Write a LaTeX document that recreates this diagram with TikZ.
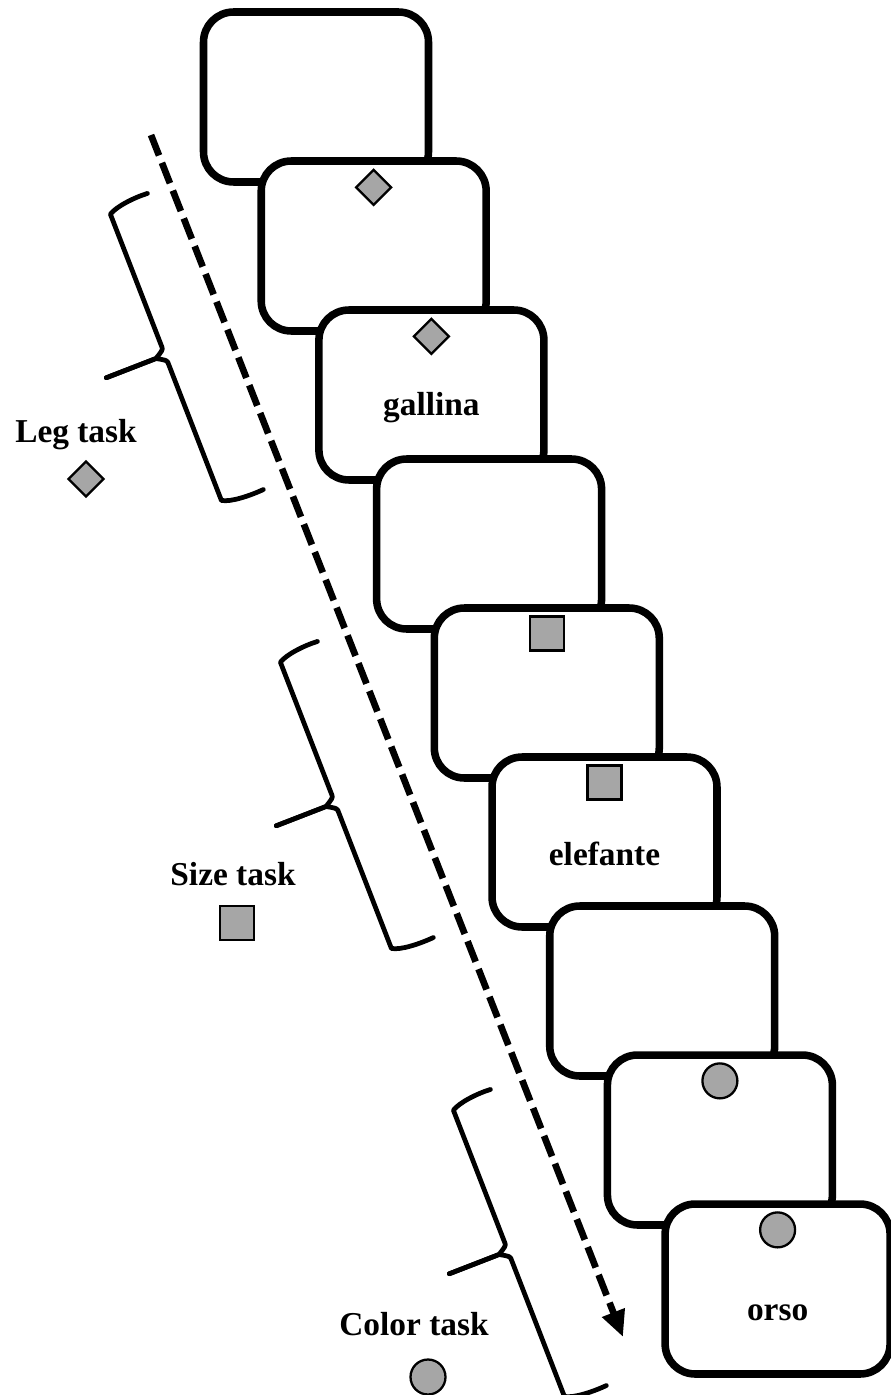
\documentclass[tikz,border=0pt]{standalone}
\usepackage{fontspec}
\setmainfont{Liberation Serif}
\usepackage{xcolor}
\usepackage{tikz}
\usetikzlibrary{positioning,shapes.geometric,arrows.meta,calc}
\definecolor{markgray}{RGB}{166,166,166}
\tikzstyle{card}=[rectangle, draw=black, line width=4.3pt, fill=white,
  rounded corners=0.6cm, minimum width=4.5cm, minimum height=3.4cm]
\tikzstyle{shapebase}=[draw=black, fill=markgray, line width=1.3pt, inner sep=0pt]
\tikzstyle{legshape}=[shapebase, diamond, minimum size=0.72cm]
\tikzstyle{sizeshape}=[shapebase, rectangle, minimum size=0.68cm]
\tikzstyle{colorshape}=[shapebase, circle, minimum size=0.7cm]
\tikzstyle{every node}=[font=\fontsize{19}{22}\selectfont\bfseries]
\tikzstyle{timeline}=[draw, line width=3.8pt, dash pattern=on 12.5pt off 4.5pt,
  -{Triangle[length=15pt,width=13pt]}]
\tikzstyle{curly}=[draw, line width=2.7pt, line join=round, line cap=round]
\newcommand{\taskbrace}[2]{
\begin{scope}[shift={#1}, rotate=#2]
  \draw[curly] (-157,-42) .. controls (-158,-28) and (-156,-8) .. (-151,0)
    -- (-8,0) to[out=0,in=270] (0,8) -- (0,63);
  \draw[curly] (0,63) -- (0,8) to[out=270,in=180] (8,0)
    -- (156,0) .. controls (161,-8) and (162,-28) .. (161,-43);
\end{scope}
}

\begin{document}
\begin{tikzpicture}[x=0.02cm, y=-0.02cm]
  \useasboundingbox (0,0) rectangle (890,1395);
  % trials
  \foreach \i in {1,...,9}
    \node[card] (card\i) at ({316+57.7*(\i-1)}, {97+149*(\i-1)}) {};
  % cues
  \node[legshape, below=0.22cm of card2.north] (cue2) {};
  \node[legshape, below=0.22cm of card3.north] (cue3) {};
  \node[sizeshape, below=0.22cm of card5.north] (cue5) {};
  \node[sizeshape, below=0.22cm of card6.north] (cue6) {};
  \node[colorshape, below=0.22cm of card8.north] (cue8) {};
  \node[colorshape, below=0.22cm of card9.north] (cue9) {};
  % targets
  \node[anchor=base] (word3) at ($(card3.center)+(0,20)$) {gallina};
  \node[anchor=base] (word6) at ($(card6.center)+(0,23)$) {elefante};
  \node[anchor=base] (word9) at ($(card9.center)+(0,31)$) {orso};
  % time
  \coordinate (start) at (151,135);
  \coordinate (finish) at (623,1337);
  \draw[timeline] (start) -- (finish);
  % blocks
  \taskbrace{(165,355)}{-68.8}
  \taskbrace{(335,803)}{-68.8}
  \taskbrace{(508,1251)}{-68.8}
  % legend
  \node[anchor=base] (legtask) at (76,442) {Leg task};
  \node[legshape] (legcue) at (86,479) {};
  \node[anchor=base] (sizetask) at (233,885) {Size task};
  \node[sizeshape] (sizecue) at (237,923) {};
  \node[anchor=base] (colortask) at (414,1335) {Color task};
  \node[colorshape] (colorcue) at (428,1377) {};
\end{tikzpicture}
\end{document}
